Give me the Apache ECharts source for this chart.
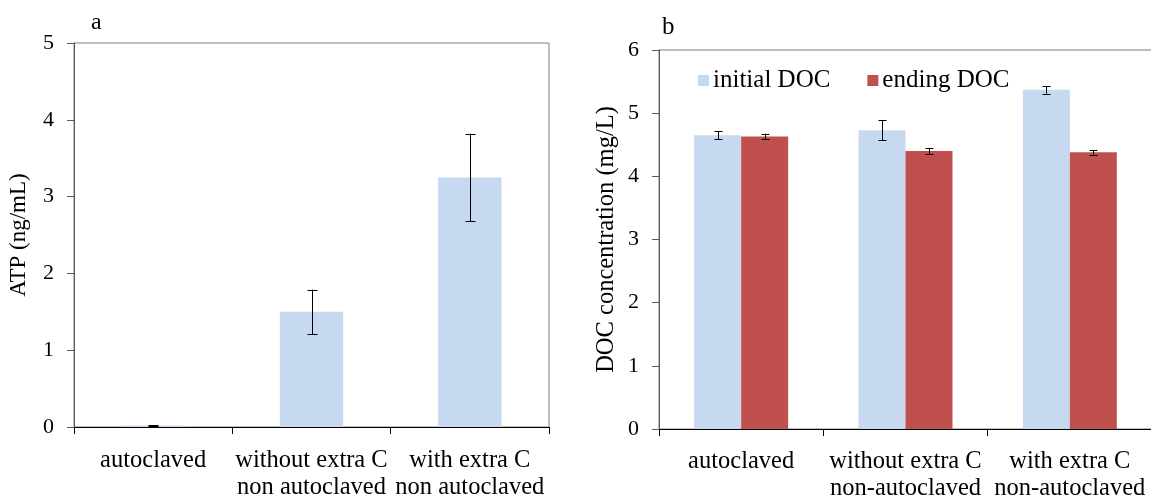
<!DOCTYPE html>
<html>
<head>
<meta charset="utf-8">
<script src="https://cdn.jsdelivr.net/npm/echarts@6/dist/echarts.min.js"></script>
<style>
html,body{margin:0;padding:0;background:#fff;}
#c{width:1151px;height:496px;}
</style>
</head>
<body>
<div id="c"></div>
<script>
// ---- data ----
const categoriesA = ['autoclaved', 'without extra C\nnon autoclaved', 'with extra C\nnon autoclaved'];
const atpValues = [0.02, 1.50, 3.25];
const atpErr = [0.005, 0.29, 0.57];

const categoriesB = ['autoclaved', 'without extra C\nnon-autoclaved', 'with extra C\nnon-autoclaved'];
const seriesNames = ['initial DOC', 'ending DOC'];
const initialDOC = [4.65, 4.73, 5.37];
const initialErr = [0.065, 0.16, 0.06];
const endingDOC = [4.63, 4.40, 4.38];
const endingErr = [0.045, 0.05, 0.035];

const FONT = '"Liberation Serif", "Times New Roman", serif';
const BLUE = '#c6d9f1';
const RED = '#c0504d';
const AXIS = '#595959';

const chart = echarts.init(document.getElementById('c'), null, {renderer: 'canvas'});

function errSeries(xIdx, yIdx, vals, errs, offset, capHalf, z) {
  return {
    type: 'custom',
    xAxisIndex: xIdx,
    yAxisIndex: yIdx,
    z: z || 10,
    silent: true,
    data: vals.map((v, i) => [i, v - errs[i], v + errs[i]]),
    renderItem: function (params, api) {
      const lo = api.coord([api.value(0), api.value(1)]);
      const hi = api.coord([api.value(0), api.value(2)]);
      const x = Math.round(lo[0] + offset) + 0.5;
      const style = {stroke: '#000', lineWidth: 1};
      return {
        type: 'group',
        children: [
          {type: 'line', shape: {x1: x, y1: hi[1], x2: x, y2: lo[1]}, style: style},
          {type: 'line', shape: {x1: x - capHalf, y1: Math.round(hi[1]) + 0.5, x2: x + capHalf, y2: Math.round(hi[1]) + 0.5}, style: style},
          {type: 'line', shape: {x1: x - capHalf, y1: Math.round(lo[1]) + 0.5, x2: x + capHalf, y2: Math.round(lo[1]) + 0.5}, style: style}
        ]
      };
    }
  };
}

function yAxisCommon(gridIndex, name, max, nameGap, nameSize) {
  return {
    type: 'value', gridIndex: gridIndex, min: 0, max: max, interval: 1,
    name: name, nameLocation: 'middle', nameRotate: 90, nameGap: nameGap,
    nameTextStyle: {fontFamily: FONT, fontSize: nameSize, color: '#000'},
    axisLine: {show: true, lineStyle: {color: AXIS, width: 1}},
    axisTick: {show: true, length: 7, lineStyle: {color: AXIS}},
    axisLabel: {fontFamily: FONT, fontSize: 22, color: '#000', margin: 20},
    splitLine: {show: false}
  };
}

function xAxisCommon(gridIndex, cats, margin) {
  return {
    type: 'category', gridIndex: gridIndex, data: cats,
    axisLine: {show: true, lineStyle: {color: '#000', width: 1}},
    axisTick: {show: true, length: 7, alignWithLabel: false, lineStyle: {color: '#000'}},
    axisLabel: {fontFamily: FONT, fontSize: 24.5, color: '#000', margin: margin, interval: 0, lineHeight: 27}
  };
}

const option = {
  backgroundColor: '#fff',
  animation: false,
  title: [
    {text: 'a', left: 86, top: 6, textStyle: {fontFamily: FONT, fontSize: 24, fontWeight: 'normal', color: '#000'}},
    {text: 'b', left: 657, top: 10, textStyle: {fontFamily: FONT, fontSize: 25, fontWeight: 'normal', color: '#000'}}
  ],
  legend: {
    data: seriesNames,
    left: 693, top: 63,
    itemWidth: 11, itemHeight: 11, itemGap: 37,
    icon: 'rect',
    textStyle: {fontFamily: FONT, fontSize: 25, color: '#000', padding: [0, 0, 0, -1]}
  },
  grid: [
    {left: 74, top: 43, width: 475, height: 384, show: true, borderColor: '#7f7f7f', borderWidth: 1, containLabel: false, outerBoundsMode: 'none'},
    {left: 659, top: 50, width: 493, height: 379, show: true, borderColor: '#7f7f7f', borderWidth: 1, containLabel: false, outerBoundsMode: 'none'}
  ],
  xAxis: [xAxisCommon(0, categoriesA, 20), xAxisCommon(1, categoriesB, 19)],
  yAxis: [yAxisCommon(0, 'ATP (ng/mL)', 5, 44, 23), yAxisCommon(1, 'DOC concentration (mg/L)', 6, 40, 24.5)],
  series: [
    {type: 'bar', xAxisIndex: 0, yAxisIndex: 0, data: atpValues, barWidth: '40%', itemStyle: {color: BLUE}},
    errSeries(0, 0, atpValues, atpErr, 0, 5),
    {name: seriesNames[0], type: 'bar', xAxisIndex: 1, yAxisIndex: 1, data: initialDOC, barWidth: 47, barGap: '0%', itemStyle: {color: BLUE}},
    {name: seriesNames[1], type: 'bar', xAxisIndex: 1, yAxisIndex: 1, data: endingDOC, barWidth: 47, barGap: '0%', itemStyle: {color: RED}},
    errSeries(1, 1, initialDOC, initialErr, -23.5, 4),
    errSeries(1, 1, endingDOC, endingErr, 23.5, 4)
  ]
};
chart.setOption(option);
</script>
</body>
</html>
